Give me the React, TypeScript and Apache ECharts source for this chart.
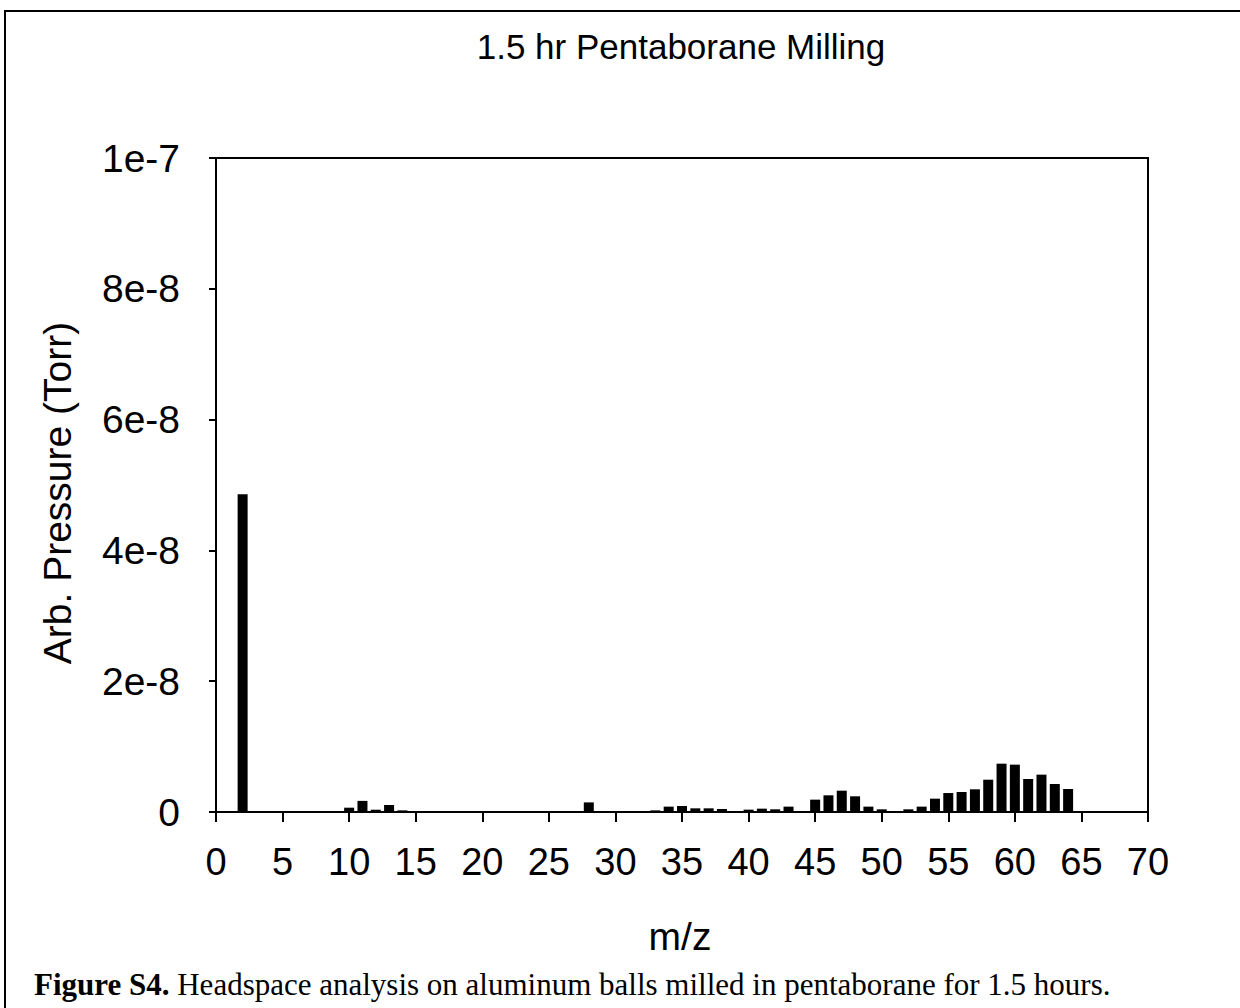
import React, { useEffect, useRef } from "react";
import * as echarts from "echarts";

// m/z channels and their headspace partial pressures (Torr)
const massToCharge = [
  2, 10, 11, 12, 13, 14, 28, 33, 34, 35, 36, 37, 38, 40, 41, 42, 43, 45, 46, 47, 48, 49, 50,
  52, 53, 54, 55, 56, 57, 58, 59, 60, 61, 62, 63, 64,
];
const pressureTorr = [
  4.86e-8, 6.6e-10, 1.7e-9, 3.5e-10, 1.07e-9, 2.5e-10, 1.47e-9, 2.5e-10, 8.2e-10, 9.2e-10,
  5.6e-10, 5.6e-10, 4.6e-10, 3.6e-10, 5.1e-10, 4.1e-10, 8.2e-10, 1.89e-9, 2.55e-9, 3.26e-9,
  2.4e-9, 8.2e-10, 4.1e-10, 4.1e-10, 8.2e-10, 2.04e-9, 2.9e-9, 3.06e-9, 3.47e-9, 4.94e-9,
  7.39e-9, 7.24e-9, 5.05e-9, 5.71e-9, 4.28e-9, 3.52e-9,
];

const xMin = 0;
const xMax = 70;
const xStep = 5;
const yMin = 0;
const yMax = 1e-7;
const yStep = 2e-8;

const titleText = "1.5 hr Pentaborane Milling";
const xName = "m/z";
const yName = "Arb. Pressure (Torr)";
const captionBold = "Figure S4.";
const captionRest = " Headspace analysis on aluminum balls milled in pentaborane for 1.5 hours.";

const sans = "Liberation Sans, Arial, sans-serif";
const serif = "Liberation Serif, Times New Roman, serif";

export default function App() {
  const ref = useRef<HTMLDivElement>(null);

  useEffect(() => {
    if (!ref.current) return;
    const chart = echarts.init(ref.current, null, { renderer: "svg" });
    const points = massToCharge.map((m, i) => [m, pressureTorr[i]]);

    chart.setOption({
      animation: false,
      backgroundColor: "#ffffff",
      grid: {
        left: 216,
        right: 92,
        top: 158,
        bottom: 196,
        show: true,
        borderColor: "#000",
        borderWidth: 2,
        containLabel: false,
      },
      xAxis: {
        type: "value",
        min: xMin,
        max: xMax,
        interval: xStep,
        axisLine: { show: true, lineStyle: { color: "#000", width: 2 } },
        axisTick: { show: true, inside: false, length: 10, lineStyle: { color: "#000", width: 2 } },
        axisLabel: {
          color: "#000",
          fontFamily: sans,
          fontSize: 38,
          margin: 31,
        },
        splitLine: { show: false },
      },
      yAxis: {
        type: "value",
        min: yMin,
        max: yMax,
        interval: yStep,
        axisLine: { show: true, lineStyle: { color: "#000", width: 2 } },
        axisTick: { show: true, inside: false, length: 7, lineStyle: { color: "#000", width: 2 } },
        axisLabel: {
          color: "#000",
          fontFamily: sans,
          fontSize: 39,
          margin: 36,
          formatter: (v: number) => (v === 0 ? "0" : v.toExponential(0)),
        },
        splitLine: { show: false },
      },
      series: [
        {
          type: "bar",
          data: points,
          barWidth: 10,
          itemStyle: { color: "#000" },
        },
      ],
      graphic: [
        {
          type: "polyline",
          shape: { points: [[5, 1008], [5, 11], [1240, 11]] },
          style: { stroke: "#000", lineWidth: 2, fill: "none" },
          silent: true,
        },
        {
          type: "text",
          x: 681,
          y: 46,
          style: {
            text: titleText,
            fontFamily: sans,
            fontSize: 35,
            fill: "#000",
            textAlign: "center",
            textVerticalAlign: "middle",
          },
        },
        {
          type: "text",
          x: 680,
          y: 936,
          style: {
            text: xName,
            fontFamily: sans,
            fontSize: 39,
            fill: "#000",
            textAlign: "center",
            textVerticalAlign: "middle",
          },
        },
        {
          type: "text",
          x: 57,
          y: 493,
          rotation: Math.PI / 2,
          style: {
            text: yName,
            fontFamily: sans,
            fontSize: 39,
            fill: "#000",
            textAlign: "center",
            textVerticalAlign: "middle",
          },
        },
        {
          type: "text",
          x: 34,
          y: 984,
          style: {
            text: `{b|${captionBold}}{r|${captionRest}}`,
            textVerticalAlign: "middle",
            rich: {
              b: { fontFamily: serif, fontSize: 31, fontWeight: "bold", fill: "#000" },
              r: { fontFamily: serif, fontSize: 31, fill: "#000" },
            },
          },
        },
      ],
    });

    return () => chart.dispose();
  }, []);

  return (
    <div
      ref={ref}
      style={{ position: "fixed", left: 0, top: 0, width: 1240, height: 1008 }}
    />
  );
}
